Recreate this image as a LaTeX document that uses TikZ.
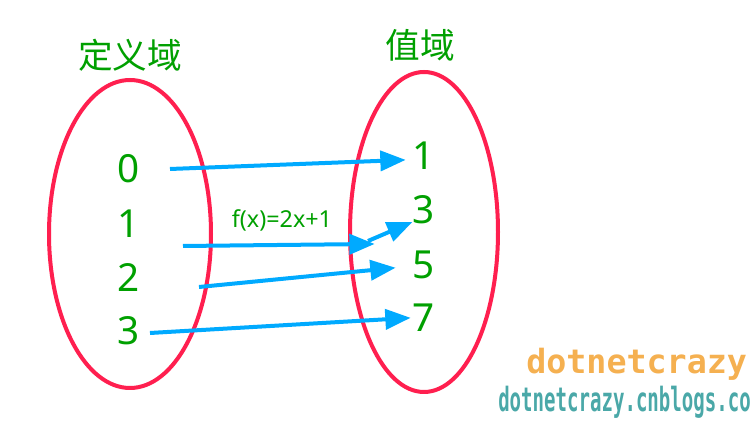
\documentclass[tikz,border=0pt]{standalone}
\usepackage{fontspec}
\usepackage{graphicx}
\setmainfont{Noto Sans}
\newfontfamily\cjk{Noto Sans CJK SC}
\newfontfamily\wmfont{DejaVu Sans Mono}
\usetikzlibrary{arrows.meta}
\definecolor{ringred}{HTML}{FF1F4F}
\definecolor{arrowblue}{HTML}{00AAFF}
\definecolor{txtgreen}{HTML}{00A000}
\definecolor{wmorange}{HTML}{F5B050}
\definecolor{wmteal}{HTML}{4AA8A8}
\tikzset{
  ring/.style={draw=ringred, line width=3pt},
  numlbl/.style={text=txtgreen, font=\fontsize{29}{32}\selectfont, inner sep=0pt},
  setlbl/.style={text=txtgreen, font=\cjk\fontsize{26}{30}\selectfont, inner sep=0pt},
  maparrow/.style={draw=arrowblue, line width=3pt, -{Triangle[length=19pt,width=15pt]}, shorten >=-2pt},
}
\begin{document}
\begin{tikzpicture}[x=0.75pt,y=-0.75pt]
\useasboundingbox (0,0) rectangle (751,427);
\fill[white] (0,0) rectangle (751,427);
% ellipses
\draw[ring] (130,234) ellipse [x radius=81, y radius=154];
\draw[ring] (424,232) ellipse [x radius=74, y radius=160];
% set labels
\node[setlbl] (dom) at (130,55) {定义域};
\node[setlbl] (rng) at (420,45) {值域};
% domain numbers
\node[numlbl] (d0) at (129,169) {0};
\node[numlbl] (d1) at (129,224) {1};
\node[numlbl] (d2) at (129,278) {2};
\node[numlbl] (d3) at (129,331) {3};
% range numbers
\node[numlbl] (r1) at (424,156) {1};
\node[numlbl] (r3) at (424,210) {3};
\node[numlbl] (r5) at (424,265) {5};
\node[numlbl] (r7) at (424,318) {7};
% function label
\node[text=txtgreen, font=\fontsize{17.5}{20}\selectfont, inner sep=0pt] (fx) at (282,220) {f(x)=2x+1};
% arrow anchor coordinates
\coordinate (a0s) at (170,169);
\coordinate (a0e) at (403,160);
\coordinate (a1s) at (183,246);
\coordinate (a1e) at (372,244);
\coordinate (a1b) at (368,241);
\coordinate (a1t) at (410,223);
\coordinate (a2s) at (199,287);
\coordinate (a2e) at (393,268);
\coordinate (a3s) at (150,333);
\coordinate (a3e) at (408,318);
\draw[maparrow] (a0s) -- (a0e);
\draw[maparrow] (a1s) -- (a1e);
\draw[maparrow] (a1b) -- (a1t);
\draw[maparrow] (a2s) -- (a2e);
\draw[maparrow] (a3s) -- (a3e);
% watermark
\node[anchor=west, text=wmorange, font=\wmfont\bfseries\fontsize{25}{27}\selectfont, inner sep=0pt] (wm1) at (526,364) {dotnetcrazy};
\node[anchor=base west, text=wmteal, font=\wmfont\bfseries\fontsize{14.3}{16}\selectfont, inner sep=0pt] (wm2) at (498,412) {\scalebox{1}[1.75]{dotnetcrazy.cnblogs.co}};
\end{tikzpicture}
\end{document}
